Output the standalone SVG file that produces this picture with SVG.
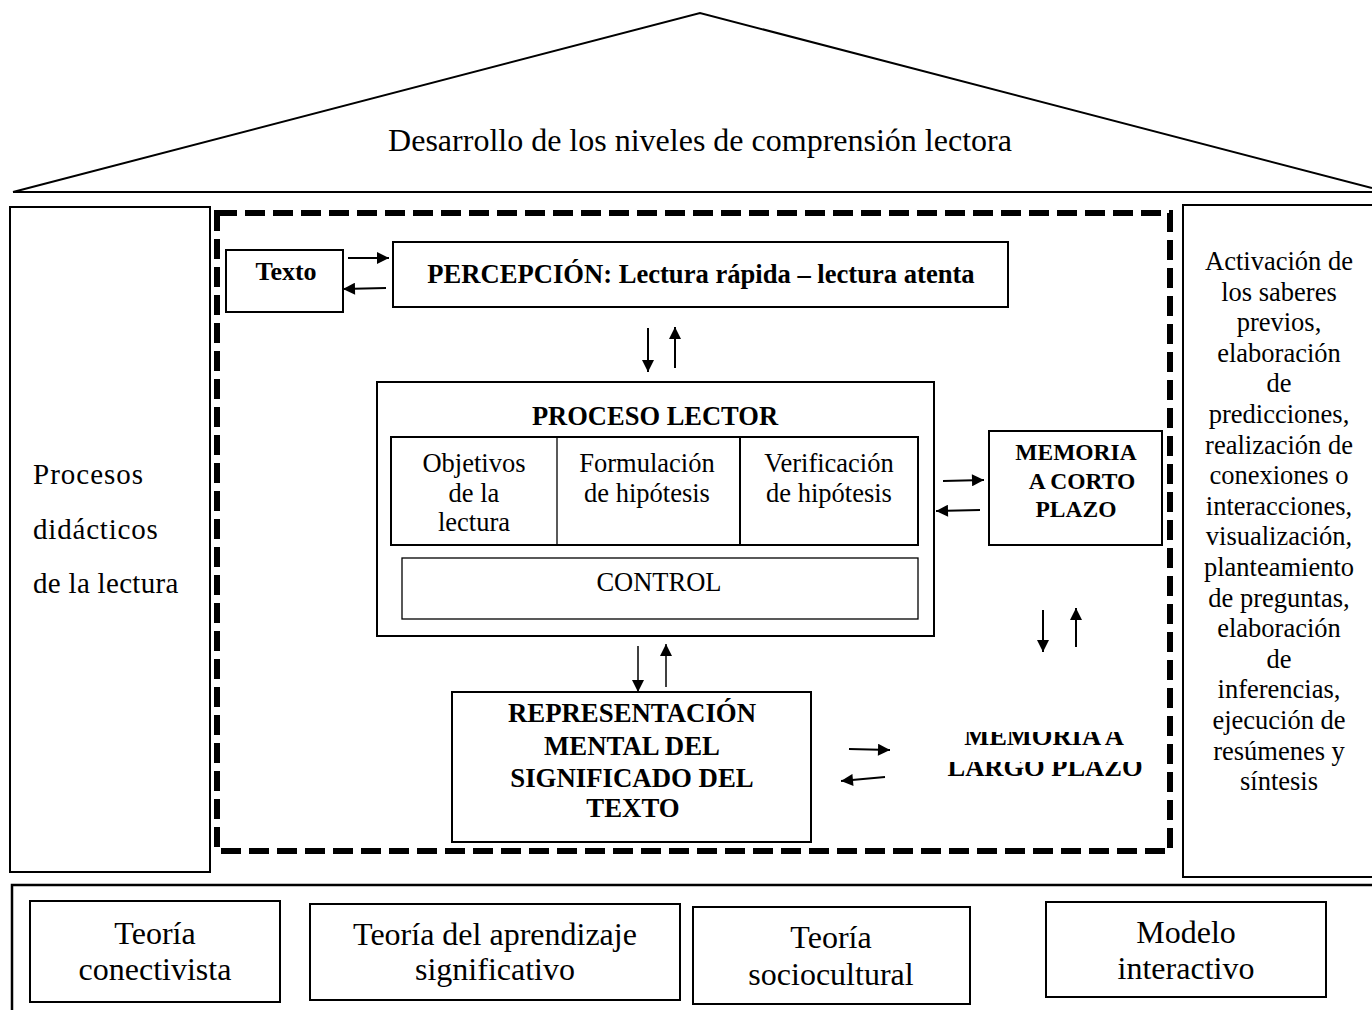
<svg xmlns="http://www.w3.org/2000/svg" width="1372" height="1010" viewBox="0 0 1372 1010">
<style>
.t{font-family:"Liberation Serif","Times New Roman",serif;fill:#000;text-anchor:middle}
.b{font-weight:bold}
.box{fill:#fff;stroke:#000;stroke-width:2}
.thin{fill:#fff;stroke:#000;stroke-width:1.3}
.con line{stroke:#000;stroke-width:2;marker-end:url(#ah)}
</style>
<defs>
<marker id="ah" viewBox="0 0 10 10" refX="10" refY="5" markerWidth="14" markerHeight="12" markerUnits="userSpaceOnUse" orient="auto"><path d="M0,0 L10,5 L0,10 z" fill="#000"/></marker>
<clipPath id="clipLP"><rect x="930" y="732" width="230" height="15"/><rect x="930" y="762" width="230" height="16"/></clipPath>
</defs>
<rect width="1372" height="1010" fill="#fff"/>

<g id="roof">
<path d="M13,192 L700,13 L1372,188 M13,192 L1372,192" fill="none" stroke="#000" stroke-width="2"/>
<text class="t" x="700" y="151" font-size="32">Desarrollo de los niveles de comprensión lectora</text>
</g>

<g id="procesos-didacticos">
<rect class="box" x="10" y="207" width="200" height="665" stroke-width="2.5"/>
<text class="t" x="33" y="484" font-size="29" style="text-anchor:start" letter-spacing="1">Procesos</text>
<text class="t" x="33" y="539" font-size="29" style="text-anchor:start" letter-spacing="0.8">didácticos</text>
<text class="t" x="33" y="593" font-size="29" style="text-anchor:start" letter-spacing="0.3">de la lectura</text>
</g>

<g id="marco-discontinuo">
<rect x="217" y="213" width="953" height="638" fill="none" stroke="#000" stroke-width="6" stroke-dasharray="20 8"/>
</g>

<g id="estrategias">
<rect class="box" x="1183" y="205" width="200" height="672" stroke-width="2"/>
<g font-size="26.5">
<text class="t" x="1279" y="270">Activación de</text>
<text class="t" x="1279" y="300.6">los saberes</text>
<text class="t" x="1279" y="331.2">previos,</text>
<text class="t" x="1279" y="361.8">elaboración</text>
<text class="t" x="1279" y="392.4">de</text>
<text class="t" x="1279" y="423">predicciones,</text>
<text class="t" x="1279" y="453.6">realización de</text>
<text class="t" x="1279" y="484.2">conexiones o</text>
<text class="t" x="1279" y="514.8">interacciones,</text>
<text class="t" x="1279" y="545.4">visualización,</text>
<text class="t" x="1279" y="576">planteamiento</text>
<text class="t" x="1279" y="606.6">de preguntas,</text>
<text class="t" x="1279" y="637.2">elaboración</text>
<text class="t" x="1279" y="667.8">de</text>
<text class="t" x="1279" y="698.4">inferencias,</text>
<text class="t" x="1279" y="729">ejecución de</text>
<text class="t" x="1279" y="759.6">resúmenes y</text>
<text class="t" x="1279" y="790">síntesis</text>
</g>
</g>

<g id="texto">
<rect class="box" x="226" y="250" width="117" height="62"/>
<text class="t b" x="286" y="280" font-size="26">Texto</text>
</g>

<g id="percepcion">
<rect class="box" x="393" y="242" width="615" height="65"/>
<text class="t b" x="701" y="283" font-size="26.6">PERCEPCIÓN: Lectura rápida – lectura atenta</text>
</g>

<g id="proceso-lector">
<rect class="box" x="377" y="382" width="557" height="254"/>
<text class="t b" x="655" y="425" font-size="26.5">PROCESO LECTOR</text>
<rect class="box" x="391" y="437" width="527" height="108"/>
<line x1="557" y1="437" x2="557" y2="545" stroke="#000" stroke-width="1.3"/>
<line x1="740" y1="437" x2="740" y2="545" stroke="#000" stroke-width="2"/>
<g font-size="26.5">
<text class="t" x="474" y="472">Objetivos</text>
<text class="t" x="474" y="502">de la</text>
<text class="t" x="474" y="531">lectura</text>
<text class="t" x="647" y="472">Formulación</text>
<text class="t" x="647" y="502">de hipótesis</text>
<text class="t" x="829" y="472">Verificación</text>
<text class="t" x="829" y="502">de hipótesis</text>
</g>
<rect class="thin" x="402" y="558" width="516" height="61"/>
<text class="t" x="659" y="591" font-size="26.5">CONTROL</text>
</g>

<g id="memoria-corto">
<rect class="box" x="989" y="431" width="173" height="114"/>
<text class="t b" x="1076" y="460" font-size="23.5">MEMORIA</text>
<text class="t b" x="1082" y="489" font-size="23.5">A CORTO</text>
<text class="t b" x="1076" y="517" font-size="23.5">PLAZO</text>
</g>

<g id="representacion">
<rect class="box" x="452" y="692" width="359" height="150"/>
<g font-size="26.8">
<text class="t b" x="632" y="722">REPRESENTACIÓN</text>
<text class="t b" x="632" y="755">MENTAL DEL</text>
<text class="t b" x="632" y="787">SIGNIFICADO DEL</text>
<text class="t b" x="633" y="817">TEXTO</text>
</g>
</g>

<g id="memoria-largo" clip-path="url(#clipLP)">
<text class="t b" x="1044" y="745" font-size="26.5">MEMORIA A</text>
<text class="t b" x="1045" y="776" font-size="26.5">LARGO PLAZO</text>
</g>

<g id="fundamentos">
<path d="M12,1010 L12,885 L1372,885" fill="none" stroke="#000" stroke-width="2.5"/>
</g>

<g id="teoria-conectivista">
<rect class="box" x="30" y="901" width="250" height="101"/>
<text class="t" x="155" y="944" font-size="32">Teoría</text>
<text class="t" x="155" y="980" font-size="32">conectivista</text>
</g>
<g id="teoria-aprendizaje">
<rect class="box" x="310" y="904" width="370" height="96"/>
<text class="t" x="495" y="945" font-size="32">Teoría del aprendizaje</text>
<text class="t" x="495" y="980" font-size="32">significativo</text>
</g>
<g id="teoria-sociocultural">
<rect class="box" x="693" y="907" width="277" height="97"/>
<text class="t" x="831" y="948" font-size="32">Teoría</text>
<text class="t" x="831" y="985" font-size="32">sociocultural</text>
</g>
<g id="modelo-interactivo">
<rect class="box" x="1046" y="902" width="280" height="95"/>
<text class="t" x="1186" y="943" font-size="32">Modelo</text>
<text class="t" x="1186" y="979" font-size="32">interactivo</text>
</g>

<g id="connectors" class="con">
<line x1="348" y1="258" x2="389" y2="258"/>
<line x1="386" y1="288" x2="343" y2="289"/>
<line x1="648" y1="328" x2="648" y2="372"/>
<line x1="675" y1="368" x2="675" y2="327"/>
<line x1="943" y1="481" x2="984" y2="480"/>
<line x1="980" y1="510" x2="936" y2="511"/>
<line x1="1043" y1="610" x2="1043" y2="652"/>
<line x1="1076" y1="647" x2="1076" y2="608"/>
<line x1="638" y1="646" x2="638" y2="692" style="stroke-width:1.5"/>
<line x1="666" y1="687" x2="666" y2="644" style="stroke-width:1.5"/>
<line x1="849" y1="749" x2="890" y2="750"/>
<line x1="885" y1="777" x2="841" y2="781"/>
</g>
</svg>
